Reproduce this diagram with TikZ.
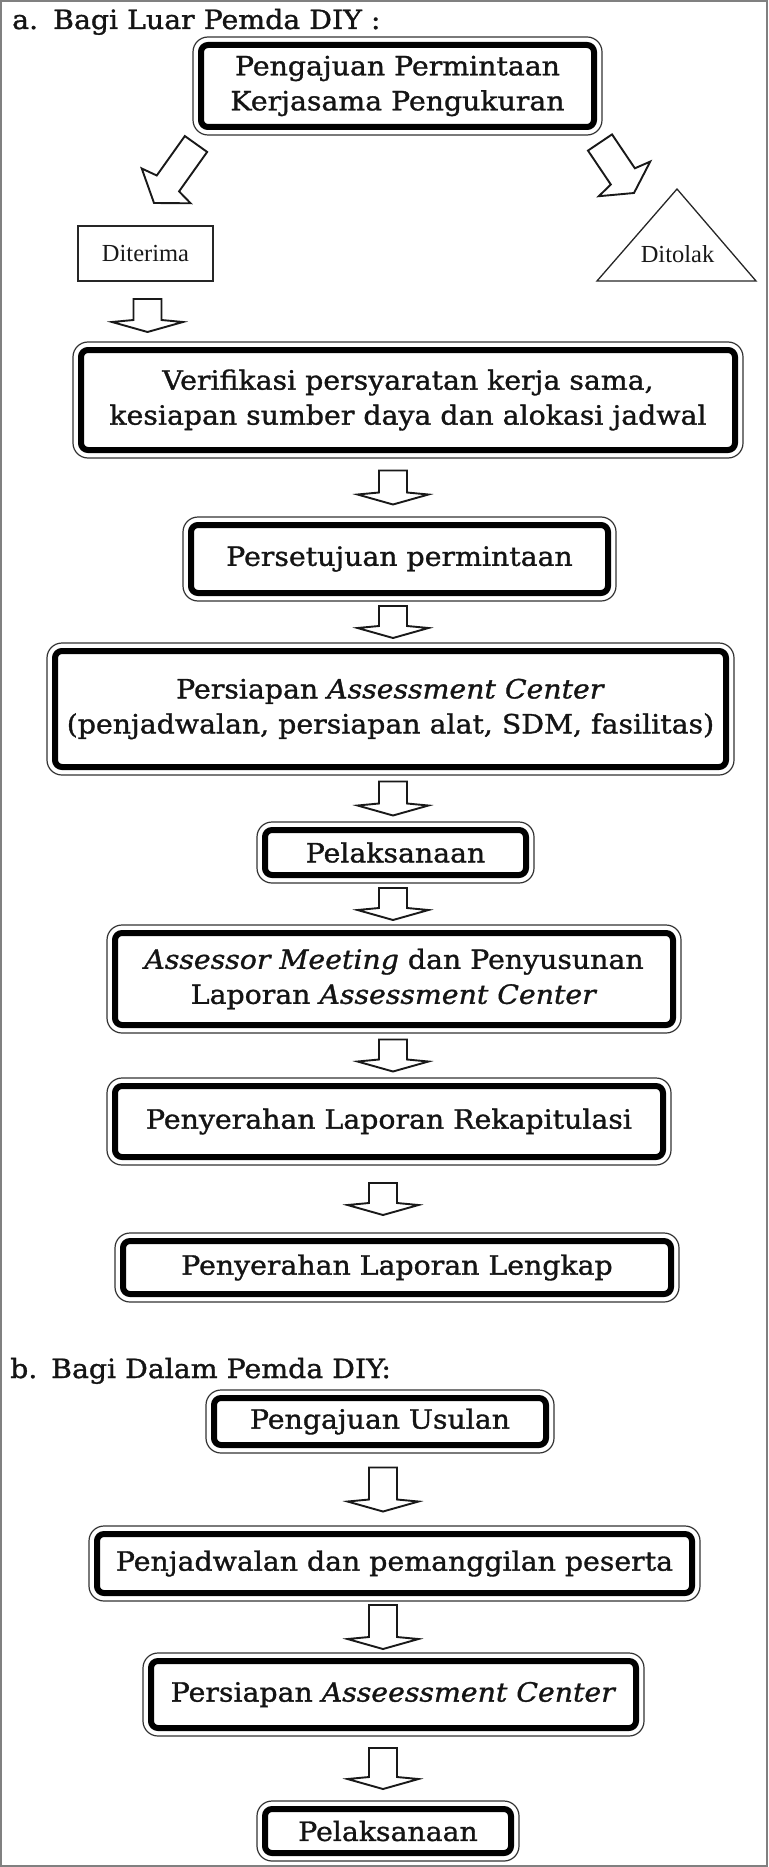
\documentclass[tikz,border=0pt]{standalone}
\usepackage{fontspec}
\setmainfont{DejaVu Serif}[FakeStretch=1.07, FakeBold=1.2]
\newfontfamily\timesfont{Liberation Serif}
\usetikzlibrary{calc}

\tikzset{
  body/.style={font=\fontsize{26.5}{35}\selectfont, text=black!92},
  heading/.style={body, anchor=base west, inner sep=0pt},
  stepbox/.style 2 args={body, draw=black, line width=6pt, rounded corners=7pt,
    inner sep=0pt, outer sep=0pt, align=center, minimum width=#1, minimum height=#2},
  rimline/.style={draw=black!80, line width=1.2pt, rounded corners=15pt},
  smallbox/.style={draw=black!85, line width=1.3pt, inner sep=0pt, outer sep=0pt,
    font=\timesfont\fontsize{24.5}{28}\selectfont, text=black!90},
  hollow/.style={draw=black!90, line width=1.9pt, line join=miter, fill=white},
  frameline/.style={draw=black!50, line width=1.2pt},
}

% hollow block arrow: tail centre, tip, shaft half width, head half width,
% distance tip-to-shaft-join, distance tip-to-barbs
\newcommand\hollowarrow[6]{%
  \coordinate (ha-j) at ($(#2)!#5pt!(#1)$);
  \coordinate (ha-k) at ($(#2)!#6pt!(#1)$);
  \draw[hollow] ($(#1)!#3pt!90:(#2)$) -- ($(ha-j)!#3pt!90:(#2)$)
    -- ($(ha-k)!#4pt!90:(#2)$) -- (#2) -- ($(ha-k)!#4pt!-90:(#2)$)
    -- ($(ha-j)!#3pt!-90:(#2)$) -- ($(#1)!#3pt!-90:(#2)$) -- cycle;}

% downward block arrow centred in the gap between two boxes
\newcommand\downblock[4]{%
  \path let \p1 = ($(#1.south)!0.5!(#2.north)$) in
    coordinate (da-t) at (#3pt, \y1+#4pt/2)
    coordinate (da-b) at (#3pt, \y1-#4pt/2);
  \hollowarrow{da-t}{da-b}{14}{35.5}{12}{10}}

% thin outer rim of a step box
\newcommand\steprim[1]{%
  \draw[rimline] ([shift={(-8pt,8pt)}]#1.north west) rectangle ([shift={(8pt,-8pt)}]#1.south east);}

\begin{document}
\begin{tikzpicture}[x=1pt,y=-1pt]
\useasboundingbox (0,0) rectangle (768,1867);
\draw[frameline] (1,1) rectangle (767,1866);

% ---- a. external requests ----
\node[heading] (ta) at (12,29) {\makebox[41pt][l]{a.}Bagi Luar Pemda DIY :};

\node[stepbox={393pt}{82pt}] (b1) at (397.5,86) {Pengajuan Permintaan\\Kerjasama Pengukuran};

\node[smallbox, minimum width=135pt, minimum height=55pt] (acc) at (145.5,253.5) {Diterima\hspace{14pt}};
\node[font=\timesfont\fontsize{24.5}{28}\selectfont, text=black!90, anchor=base, inner sep=0pt] (rej) at (677.5,263) {Ditolak};
\draw[line width=1.3pt, draw=black!85] ([shift={(-0.5pt,74pt)}]rej.base) -- ([shift={(78.5pt,-18pt)}]rej.base)
  -- ([shift={(-80.5pt,-18pt)}]rej.base) -- cycle;

\coordinate (la-t) at ([shift={(-5pt,-17pt)}]b1.south west);
\coordinate (la-h) at ([shift={(8.5pt,23pt)}]acc.north);
\hollowarrow{la-t}{la-h}{13.7}{30}{24}{21}
\coordinate (ra-t) at ([shift={(6pt,-15.5pt)}]b1.south east);
\coordinate (ra-h) at ([shift={(-43.5pt,70pt)}]rej.base);
\hollowarrow{ra-t}{ra-h}{14.5}{31}{20}{17}

\node[stepbox={654pt}{100pt}] (b2) at (408,400) {Verifikasi persyaratan kerja sama,\\kesiapan sumber daya dan alokasi jadwal};
\node[stepbox={417pt}{68pt}] (b3) at (399.5,559) {Persetujuan permintaan};
\node[stepbox={671pt}{116pt}] (b4) at (390.5,709) {Persiapan \textit{Assessment Center}\\(penjadwalan, persiapan alat, SDM, fasilitas)};
\node[stepbox={261pt}{45pt}] (b5) at (395.5,852.5) {Pelaksanaan};
\node[stepbox={558pt}{92pt}] (b6) at (394,979) {\textit{Assessor Meeting} dan Penyusunan\\Laporan \textit{Assessment Center}};
\node[stepbox={548pt}{71pt}] (b7) at (389,1121.5) {Penyerahan Laporan Rekapitulasi};
\node[stepbox={548pt}{53pt}] (b8) at (397,1267.5) {Penyerahan Laporan Lengkap};

\downblock{acc}{b2}{147.5}{33}
\downblock{b2}{b3}{393}{34}
\downblock{b3}{b4}{393}{32}
\downblock{b4}{b5}{393}{34}
\downblock{b5}{b6}{393}{32}
\downblock{b6}{b7}{393}{32}
\downblock{b7}{b8}{383}{32}

% ---- b. internal requests ----
\node[heading] (tb) at (10,1378) {\makebox[41pt][l]{b.}Bagi Dalam Pemda DIY:};

\node[stepbox={332pt}{47pt}] (c1) at (380,1421.5) {Pengajuan Usulan};
\node[stepbox={595pt}{59pt}] (c2) at (394.5,1563.5) {Penjadwalan dan pemanggilan peserta};
\node[stepbox={485pt}{67pt}] (c3) at (393.5,1694.5) {Persiapan \textit{Asseessment Center}};
\node[stepbox={246pt}{44pt}] (c4) at (388,1831) {Pelaksanaan};

\downblock{c1}{c2}{383}{44}
\downblock{c2}{c3}{383}{44}
\downblock{c3}{c4}{383}{41}

\foreach \n in {b1,b2,b3,b4,b5,b6,b7,b8,c1,c2,c3,c4} {\steprim{\n}}
\end{tikzpicture}
\end{document}
